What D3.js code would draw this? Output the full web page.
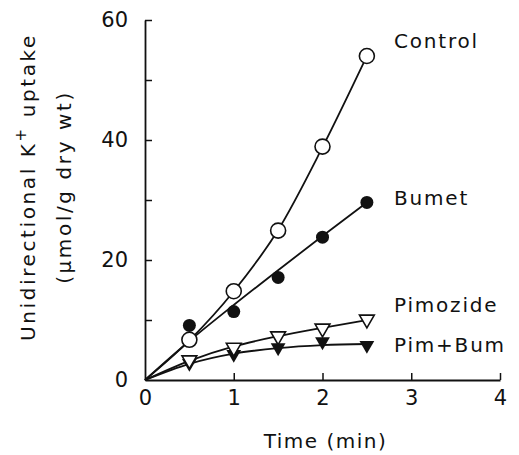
<!DOCTYPE html>
<html>
<head>
<meta charset="utf-8">
<script src="https://cdn.jsdelivr.net/npm/d3@7"></script>
<style>
  body { margin: 0; background: #fff; }
  text { font-family: "DejaVu Sans", sans-serif; fill: #111; }
</style>
</head>
<body>
<div class="chart"></div>
<script>
// measured points
var times = [0.5, 1, 1.5, 2, 2.5];
var control = [6.7, 14.8, 24.9, 38.9, 54];
var bumet = [9.1, 11.4, 17.1, 23.8, 29.6];
var pimozide = [3.3, 5.4, 7.3, 8.6, 10.1];
var pimBum = [2.8, 4.3, 5.4, 6.4, 5.8];

// fitted curves
var fitTimes = [0, 0.5, 1, 1.5, 2, 2.5];
var controlFit = [0, 6.6, 14.8, 25.0, 38.8, 54];
var bumetFit = [0, 6.5, 12.5, 18.3, 24.0, 29.6];
var pimozideFit = [0, 3.2, 5.6, 7.3, 8.7, 10.0];
var pimBumFit = [0, 2.7, 4.4, 5.3, 5.8, 6.0];

var xTicks = [0, 1, 2, 3, 4];
var yTicks = [0, 10, 20, 30, 40, 50, 60];
var yLabels = [0, 20, 40, 60];

const width = 519
const height = 455
const margin = {left: 145, top: 20, right: 19, bottom: 75}

let svg = d3.select('.chart')
  .append('svg')
  .attr('width', width)
  .attr('height', height)

let x = d3.scaleLinear().domain([0, 4]).range([margin.left, width - margin.right])
let y = d3.scaleLinear().domain([0, 60]).range([height - margin.bottom, margin.top])

// axes, ticks point inward
let xAxis = svg.append('g')
  .attr('transform', 'translate(0,' + y(0) + ')')
  .call(d3.axisBottom(x).tickValues(xTicks).tickSizeInner(-7).tickSizeOuter(0).tickPadding(10).tickFormat(d3.format('d')))

let yAxis = svg.append('g')
  .attr('transform', 'translate(' + x(0) + ',0)')
  .call(d3.axisLeft(y).tickValues(yTicks).tickSizeInner(-7).tickSizeOuter(0).tickPadding(17)
    .tickFormat(d => yLabels.indexOf(d) >= 0 ? d : ''))

svg.selectAll('.domain').attr('stroke', '#111').attr('stroke-width', 1.8)
svg.selectAll('.tick line').attr('stroke', '#111').attr('stroke-width', 1.5)
svg.selectAll('.tick text').attr('font-size', 21).attr('font-family', '"DejaVu Sans", sans-serif').attr('fill', '#111')
xAxis.selectAll('.tick').filter(d => d === 0).select('line').remove()
yAxis.selectAll('.tick').filter(d => d === 0).select('line').remove()

// fitted lines
let line = d3.line()
  .x((d, i) => x(fitTimes[i]))
  .y(d => y(d))
  .curve(d3.curveMonotoneX)

;[controlFit, bumetFit, pimozideFit, pimBumFit].forEach(s => {
  svg.append('path')
    .attr('d', line(s))
    .attr('fill', 'none')
    .attr('stroke', '#111')
    .attr('stroke-width', 1.8)
})

// markers
svg.selectAll('.bumet')
  .data(bumet)
  .enter()
  .append('circle')
  .attr('cx', (d, i) => x(times[i]))
  .attr('cy', d => y(d))
  .attr('r', 6.5)
  .attr('fill', '#111')

svg.selectAll('.control')
  .data(control)
  .enter()
  .append('circle')
  .attr('cx', (d, i) => x(times[i]))
  .attr('cy', d => y(d))
  .attr('r', 7.5)
  .attr('fill', '#fff')
  .attr('stroke', '#111')
  .attr('stroke-width', 1.6)

let tri = d3.symbol().type(d3.symbolTriangle).size(95)

svg.selectAll('.pimbum')
  .data(pimBum)
  .enter()
  .append('path')
  .attr('d', tri)
  .attr('transform', (d, i) => 'translate(' + x(times[i]) + ',' + y(d) + ') rotate(180)')
  .attr('fill', '#111')

svg.selectAll('.pimozide')
  .data(pimozide)
  .enter()
  .append('path')
  .attr('d', tri)
  .attr('transform', (d, i) => 'translate(' + x(times[i]) + ',' + y(d) + ') rotate(180)')
  .attr('fill', '#fff')
  .attr('stroke', '#111')
  .attr('stroke-width', 1.6)

// series names
let names = [['Control', 48], ['Bumet', 205], ['Pimozide', 312], ['Pim+Bum', 352]]
svg.selectAll('.name')
  .data(names)
  .enter()
  .append('text')
  .attr('x', 394)
  .attr('y', d => d[1])
  .attr('font-size', 20)
  .attr('letter-spacing', 1.8)
  .text(d => d[0])

// axis titles
svg.append('text')
  .attr('x', (x(0) + x(4)) / 2 + 3)
  .attr('y', 448)
  .attr('text-anchor', 'middle')
  .attr('font-size', 20)
  .attr('letter-spacing', 1.5)
  .text('Time (min)')

let yt = svg.append('text')
  .attr('transform', 'translate(35,187) rotate(-90)')
  .attr('text-anchor', 'middle')
  .attr('font-size', 20)
  .attr('letter-spacing', 2.6)
yt.append('tspan').text('Unidirectional K')
yt.append('tspan').attr('baseline-shift', 'super').attr('font-size', 15).text('+')
yt.append('tspan').text('  uptake')

svg.append('text')
  .attr('transform', 'translate(71,187) rotate(-90)')
  .attr('text-anchor', 'middle')
  .attr('font-size', 20)
  .attr('letter-spacing', 2.6)
  .text('(μmol/g dry wt)')
</script>
</body>
</html>
